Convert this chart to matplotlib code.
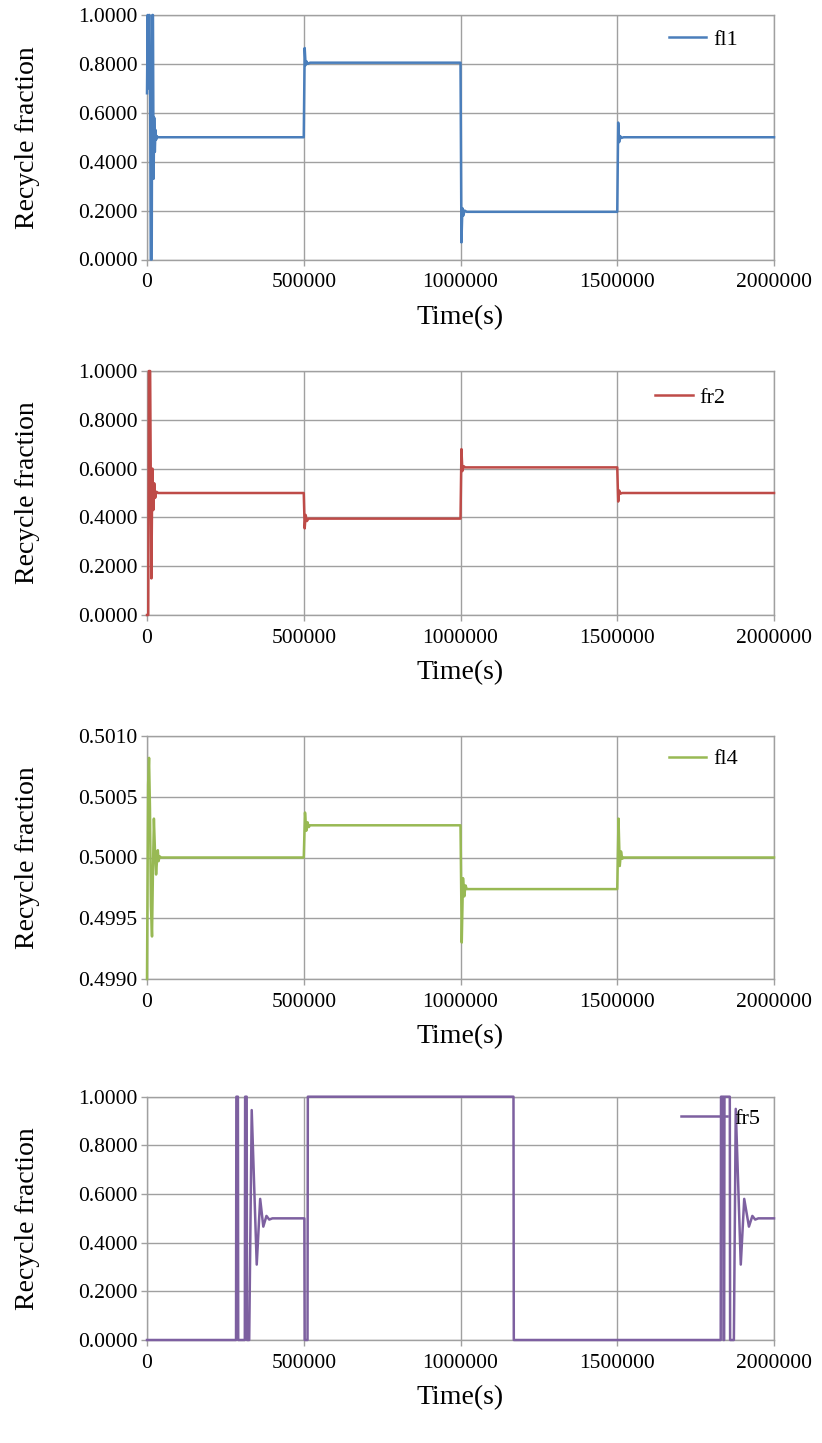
import matplotlib
matplotlib.use("Agg")
import matplotlib.pyplot as plt
from matplotlib.ticker import FormatStrFormatter, MultipleLocator

plt.rcParams['font.family'] = ['Liberation Serif', 'DejaVu Serif']

# ---------------- data ----------------
fl1_t = [0, 2000, 4000, 6000, 8000, 10000, 12000, 15000, 17000, 19000,
         21000, 23000, 25000, 27000, 29000, 31000, 34000, 40000,
         500000, 503000, 506000, 509000, 513000, 520000,
         1000000, 1003000, 1006000, 1009000, 1013000, 1020000,
         1500000, 1503000, 1506000, 1509000, 1513000, 1520000, 2000000]
fl1_v = [0.68, 1.0, 0.7, 1.0, 1.0, 0.67, 0.0, 0.0, 1.0, 1.0,
         0.33, 0.58, 0.44, 0.53, 0.49, 0.505, 0.5, 0.5,
         0.5, 0.865, 0.795, 0.81, 0.80, 0.805,
         0.805, 0.07, 0.21, 0.18, 0.20, 0.195,
         0.195, 0.56, 0.48, 0.505, 0.497, 0.5, 0.5]

fr2_t = [0, 4000, 6000, 10000, 14000, 17000, 20000, 23000, 26000, 30000, 36000,
         500000, 503000, 506000, 510000, 515000,
         1000000, 1003000, 1006000, 1010000, 1015000,
         1500000, 1503000, 1506000, 1510000, 1515000, 2000000]
fr2_v = [0.0, 0.0, 1.0, 1.0, 0.15, 0.6, 0.43, 0.54, 0.48, 0.505, 0.5,
         0.5, 0.355, 0.41, 0.385, 0.395,
         0.395, 0.68, 0.59, 0.61, 0.605,
         0.605, 0.465, 0.51, 0.497, 0.5, 0.5]

fl4_t = [0, 3500, 6500, 9500, 12500, 16000, 19000, 22000, 25500, 29000, 32000, 34500, 37000, 40000, 45000,
         500000, 504000, 508000, 512000, 516000, 520000,
         1000000, 1004000, 1008000, 1012000, 1016000, 1020000,
         1500000, 1504000, 1508000, 1512000, 1516000, 1520000, 2000000]
fl4_v = [0.4990, 0.50060, 0.50082, 0.50040, 0.49960, 0.49935, 0.49990, 0.50032, 0.50005, 0.49986, 0.49998,
         0.50006, 0.49997, 0.50001, 0.5,
         0.5, 0.50037, 0.50022, 0.50029, 0.50025, 0.500265,
         0.500265, 0.49930, 0.49983, 0.49968, 0.49977, 0.49974,
         0.49974, 0.50032, 0.49993, 0.50005, 0.49999, 0.5, 0.5]

fr5_t = [0, 284000, 285000, 290000, 291000, 312000, 313000, 318000, 319000, 326000,
         334000, 350000, 361000, 371000, 381000, 390000, 400000,
         502000, 503000, 512000, 513000, 1169000, 1170000,
         1830000, 1831000, 1838000, 1839000, 1841000, 1842000, 1859000, 1860000, 1872000,
         1878000, 1894000, 1905000, 1920000, 1931000, 1940000, 1950000, 2000000]
fr5_v = [0.0, 0.0, 1.0, 1.0, 0.0, 0.0, 1.0, 1.0, 0.0, 0.0,
         0.945, 0.31, 0.58, 0.466, 0.51, 0.495, 0.5,
         0.5, 0.0, 0.0, 1.0, 1.0, 0.0,
         0.0, 1.0, 1.0, 0.0, 0.0, 1.0, 1.0, 0.0, 0.0,
         0.95, 0.31, 0.58, 0.466, 0.51, 0.495, 0.5, 0.5]

x_ticks = [0, 500000, 1000000, 1500000, 2000000]

series = [
    dict(t=fl1_t, v=fl1_v, name="fl1", color="#4A7EBB", ylim=(0.0, 1.0), step=0.2,
         rect=(15, 259.5), leg=(0.832, 0.898), hl=1.7),
    dict(t=fr2_t, v=fr2_v, name="fr2", color="#BE4B48", ylim=(0.0, 1.0), step=0.2,
         rect=(371, 615), leg=(0.81, 0.89), hl=1.7),
    dict(t=fl4_t, v=fl4_v, name="fl4", color="#98B954", ylim=(0.4990, 0.5010), step=0.0005,
         rect=(736, 979), leg=(0.832, 0.905), hl=1.7),
    dict(t=fr5_t, v=fr5_v, name="fr5", color="#7D60A0", ylim=(0.0, 1.0), step=0.2,
         rect=(1096.7, 1340), leg=(0.851, 0.91), hl=2.1),
]

W, H = 822, 1443
fig = plt.figure(figsize=(W / 100, H / 100), dpi=100)
left_px, right_px = 147, 774
grid_col = "#A0A0A0"

for s in series:
    top_px, bot_px = s["rect"]
    ax = fig.add_axes([left_px / W, 1 - bot_px / H, (right_px - left_px) / W, (bot_px - top_px) / H])
    ax.plot(s["t"], s["v"], color=s["color"], lw=1.8, label=s["name"], zorder=3, clip_on=False)
    ax.set_xlim(0, 2000000)
    ax.set_ylim(*s["ylim"])
    ax.set_xticks(x_ticks)
    ax.xaxis.set_major_formatter(FormatStrFormatter('%d'))
    ax.yaxis.set_major_locator(MultipleLocator(s["step"]))
    ax.yaxis.set_major_formatter(FormatStrFormatter('%.4f'))
    ax.grid(True, color=grid_col, lw=1.0, zorder=0)
    ax.set_axisbelow(True)
    for sp in ax.spines.values():
        sp.set_color(grid_col)
        sp.set_linewidth(1.0)
    ax.tick_params(axis='both', labelsize=15.5, length=4, width=1.0, color=grid_col)
    ax.tick_params(axis='x', pad=6)
    ax.tick_params(axis='y', pad=3)
    ax.set_xlabel("Time(s)", fontsize=20)
    ax.set_ylabel("Recycle fraction", fontsize=20)
    ax.xaxis.set_label_coords(0.5, -0.185)
    ax.yaxis.set_label_coords(-0.17, 0.5)
    ax.legend(loc='center left', bbox_to_anchor=s["leg"], frameon=False, fontsize=16,
              borderpad=0, borderaxespad=0, handlelength=s["hl"], handletextpad=0.3)

fig.savefig("out.png", dpi=100, facecolor="white")
